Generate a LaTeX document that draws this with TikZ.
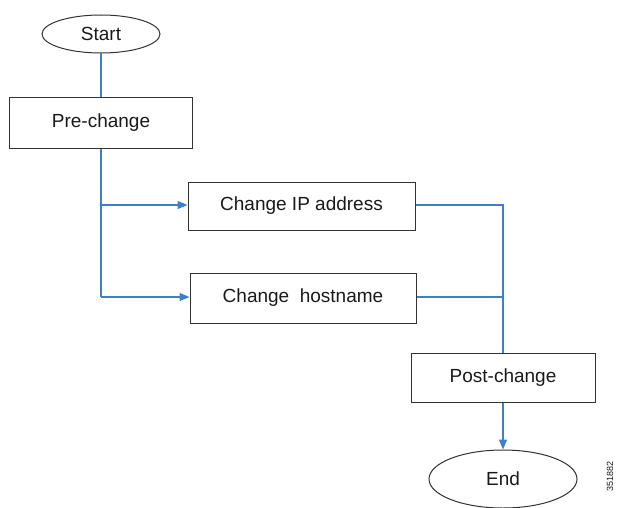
\documentclass[tikz,border=0pt]{standalone}
\usepackage{fontspec}
\setmainfont{Liberation Sans}
\usetikzlibrary{shapes.geometric,arrows.meta}
\definecolor{flow}{RGB}{60,128,200}
\definecolor{edge}{RGB}{50,50,50}
\begin{document}
\begin{tikzpicture}[x=1pt,y=-1pt,
  every node/.style={font=\fontsize{19}{21}\selectfont, text=black!90},
  stepbox/.style={draw=edge, line width=1pt, rectangle, inner sep=0pt},
  term/.style={draw=edge, line width=1pt, ellipse, inner sep=0pt},
  conn/.style={draw=flow, line width=1.2pt},
  arr/.style={conn, -{Triangle[length=10pt,width=8pt]}}]
\useasboundingbox (0,0) rectangle (618,508);
\node[term, minimum width=118pt, minimum height=38pt] (start) at (101,34) {Start};
\node[stepbox, minimum width=183pt, minimum height=50pt] (pre) at (101,123) {Pre-change};
\node[stepbox, minimum width=227pt, minimum height=48pt] (ip) at (301.5,206) {Change IP address};
\node[stepbox, minimum width=226pt, minimum height=50pt] (host) at (303,298) {Change\ \ hostname};
\node[stepbox, minimum width=184pt, minimum height=49pt] (post) at (503,377.5) {Post-change};
\node[term, minimum width=148pt, minimum height=58pt] (end) at (503,479) {End};
\node[rotate=90, font=\fontsize{9}{10}\selectfont] (id) at (610,476) {351882};
\coordinate (bl1) at (101,205);
\coordinate (bl2) at (101,297);
\coordinate (br1) at (503,205);
\coordinate (br2) at (503,297);
\draw[conn] (start) -- (pre);
\draw[conn] (pre) -- (bl2);
\draw[arr] (bl1) -- (ip.west |- bl1);
\draw[arr] (bl2) -- (host.west |- bl2);
\draw[conn] (ip.east |- br1) -- (br1) -- (post.north);
\draw[conn] (host.east |- br2) -- (br2);
\draw[arr] (post) -- (end);
\end{tikzpicture}
\end{document}
